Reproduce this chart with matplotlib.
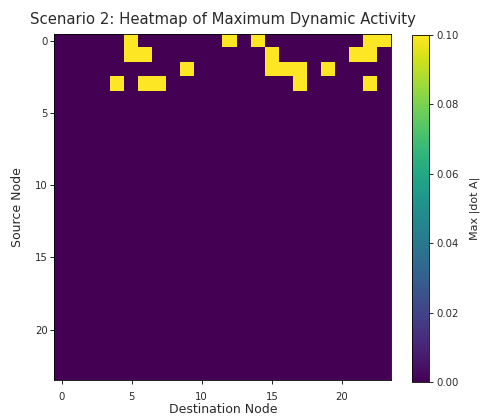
import numpy as np
import matplotlib
matplotlib.use("Agg")
import matplotlib.pyplot as plt

n_nodes = 24
# (source, destination) pairs with maximum activity
active_sources = [0, 0, 0, 0, 0, 1, 1, 1, 1, 1, 2, 2, 2, 2, 2, 3, 3, 3, 3, 3]
active_dests   = [5, 12, 14, 22, 23, 5, 6, 15, 21, 22, 9, 15, 16, 17, 19, 4, 6, 7, 17, 22]
active_values  = [0.1] * len(active_sources)

data = np.zeros((n_nodes, n_nodes))
for s, d, v in zip(active_sources, active_dests, active_values):
    data[s, d] = v

fig = plt.figure(figsize=(4.81, 4.18), dpi=100)
ax = fig.add_axes([0.1133, 0.0909, 0.6997, 0.8284])
im = ax.imshow(data, cmap="viridis", vmin=0.0, vmax=0.1, aspect="auto",
               interpolation="nearest")
ax.set_title("Scenario 2: Heatmap of Maximum Dynamic Activity", fontsize=10.7,
             pad=7, color="#2a2a2a")
ax.set_xlabel("Destination Node", fontsize=9, labelpad=1, color="#2a2a2a")
ax.set_ylabel("Source Node", fontsize=9, labelpad=8, color="#2a2a2a")
ax.set_xticks([0, 5, 10, 15, 20])
ax.set_yticks([0, 5, 10, 15, 20])
ax.tick_params(labelsize=7.3, length=3, width=0.6, pad=2, labelcolor="#2a2a2a")
ax.tick_params(axis="x", pad=5.5)
for sp in ax.spines.values():
    sp.set_linewidth(0.6)

cax = fig.add_axes([0.8565, 0.0861, 0.0353, 0.8301])
cb = fig.colorbar(im, cax=cax, ticks=[0.0, 0.02, 0.04, 0.06, 0.08, 0.10])
cb.ax.set_yticklabels(["0.00", "0.02", "0.04", "0.06", "0.08", "0.10"])
cb.ax.tick_params(labelsize=7.3, length=3, width=0.6, pad=2, labelcolor="#2a2a2a")
cb.set_label("Max |dot A|", fontsize=8, labelpad=8, color="#2a2a2a")
cb.outline.set_linewidth(0.6)

fig.savefig("out.png", dpi=100)
